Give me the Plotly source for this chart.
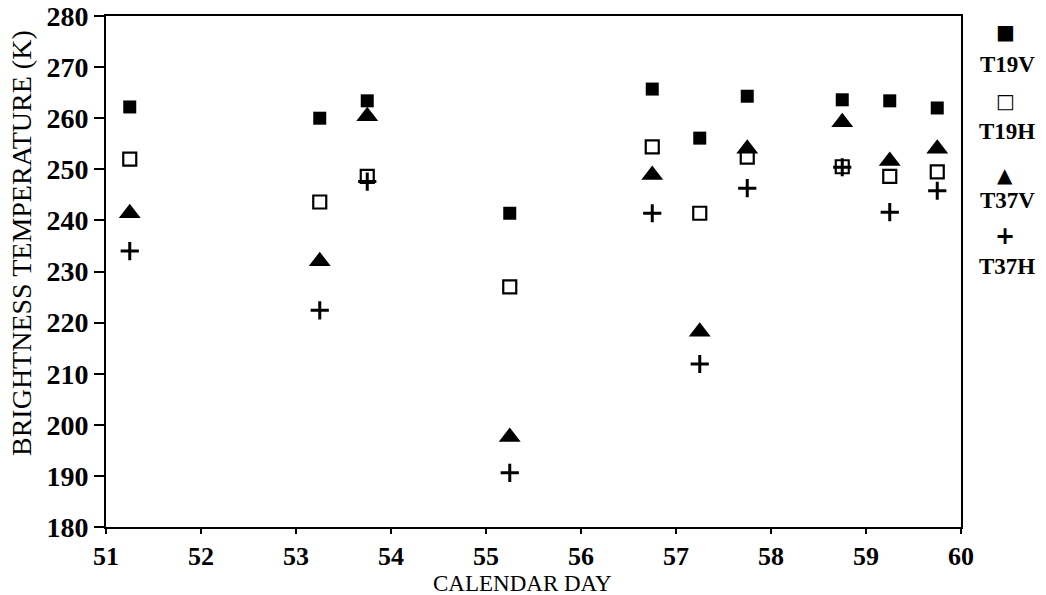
import plotly.graph_objects as go

days = [51.25, 53.25, 53.75, 55.25, 56.75, 57.25, 57.75, 58.75, 59.25, 59.75]
t19v = [262.2, 260.0, 263.4, 241.4, 265.7, 256.1, 264.3, 263.6, 263.4, 262.0]
t19h = [252.0, 243.6, 248.6, 227.0, 254.4, 241.4, 252.4, 250.5, 248.6, 249.5]
t37v = [241.4, 232.0, 260.4, 197.6, 248.9, 218.2, 254.0, 259.2, 251.6, 254.0]
t37h = [234.0, 222.4, 247.6, 190.6, 241.4, 211.9, 246.3, 250.4, 241.6, 245.8]

series_names = ["T19V", "T19H", "T37V", "T37H"]
x_ticks = [51, 52, 53, 54, 55, 56, 57, 58, 59, 60]
y_ticks = [180, 190, 200, 210, 220, 230, 240, 250, 260, 270, 280]

SERIF = "Liberation Serif"
fig = go.Figure()
styles = [
    dict(symbol="square", size=13, color="black"),
    dict(symbol="square-open", size=13, color="black", line=dict(width=2.2, color="black")),
    dict(symbol="triangle-up", size=19, color="black"),
    dict(symbol="cross-thin", size=13, color="black", line=dict(width=3, color="black")),
]
for name, ys, st in zip(series_names, [t19v, t19h, t37v, t37h], styles):
    fig.add_trace(go.Scatter(x=days, y=ys, mode="markers", name=name, marker=st,
                             showlegend=False, cliponaxis=False))

L, R, T, B = 106, 85, 16, 68
W, H = 1046, 595
pw, ph = W - L - R, H - T - B

def px_x(px):
    return (px - L) / pw

def px_y(py):
    return (H - B - py) / ph

# legend built from annotations (symbol above name)
leg_syms = ["■", "□", "▲", "+"]
sym_y = [32, 101, 175, 236]
txt_y = [64, 131, 200, 266]
annotations = []
for s, sy, name, ty in zip(leg_syms, sym_y, series_names, txt_y):
    annotations.append(dict(x=px_x(1005), y=px_y(sy), xref="paper", yref="paper", text=s,
                            showarrow=False, font=dict(family="DejaVu Sans", size=20 if s != "+" else 24, color="black",
                                                       weight="bold"),
                            xanchor="center", yanchor="middle"))
    annotations.append(dict(x=px_x(1007), y=px_y(ty), xref="paper", yref="paper", text=name,
                            showarrow=False, font=dict(family=SERIF, size=23, color="black", weight="bold"),
                            xanchor="center", yanchor="middle"))

annotations.append(dict(x=px_x(522), y=px_y(583), xref="paper", yref="paper", text="CALENDAR DAY",
                        showarrow=False, font=dict(family=SERIF, size=23, color="black"),
                        xanchor="center", yanchor="middle"))
annotations.append(dict(x=px_x(21), y=px_y(243), xref="paper", yref="paper",
                        text="BRIGHTNESS TEMPERATURE (K)", textangle=-90,
                        showarrow=False, font=dict(family=SERIF, size=28, color="black"),
                        xanchor="center", yanchor="middle"))

fig.update_layout(
    width=W, height=H,
    margin=dict(l=L, r=R, t=T, b=B, autoexpand=False),
    paper_bgcolor="white", plot_bgcolor="white",
    annotations=annotations,
    xaxis=dict(range=[51, 60], tickvals=x_ticks, ticktext=[str(v) for v in x_ticks],
               automargin=False,
               showgrid=False, zeroline=False, showline=True, linecolor="black", linewidth=2,
               mirror=True, ticks="outside", ticklen=5, tickwidth=2, tickcolor="black",
               tickfont=dict(family=SERIF, size=26, color="black", weight="bold")),
    yaxis=dict(range=[180, 280], tickvals=y_ticks, ticktext=[str(v) for v in y_ticks],
               automargin=False,
               showgrid=False, zeroline=False, showline=True, linecolor="black", linewidth=2,
               mirror=True, ticks="outside", ticklen=10, tickwidth=2, tickcolor="black",
               tickfont=dict(family=SERIF, size=28, color="black", weight="bold")),
)

fig.write_html("out.html")
